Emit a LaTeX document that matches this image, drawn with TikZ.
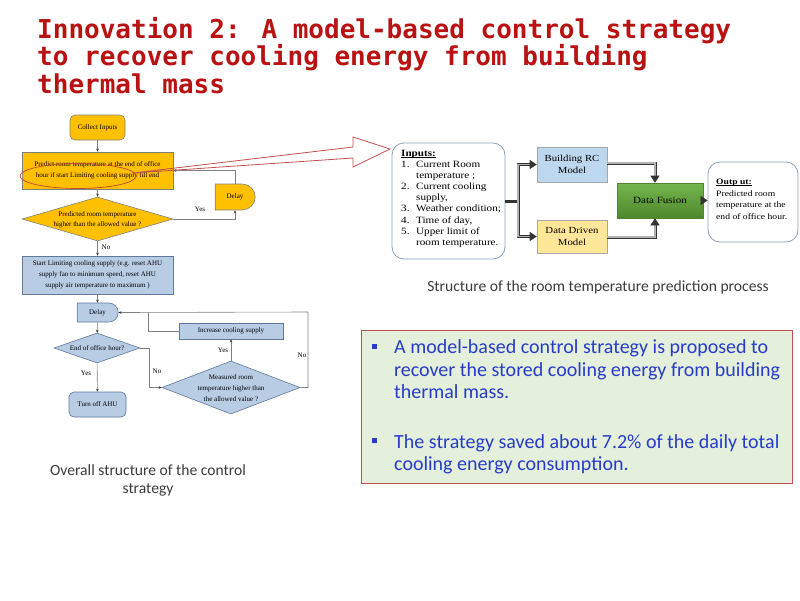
\documentclass[tikz,border=0pt]{standalone}
\usepackage{fontspec}
\setmainfont{Liberation Serif}
\newfontfamily\titlefont{DejaVu Sans Mono}
\newfontfamily\calfont{Carlito}
\newfontfamily\widetimes{Liberation Serif}[FakeStretch=1.16]
\usetikzlibrary{shapes.geometric,shapes.misc,arrows.meta,calc}
\definecolor{titlered}{RGB}{185,18,18}
\definecolor{forange}{RGB}{255,192,0}
\definecolor{fblue}{RGB}{184,204,228}
\definecolor{fblueline}{RGB}{95,120,155}
\definecolor{hlred}{RGB}{192,70,55}
\definecolor{bigred}{RGB}{192,80,77}
\definecolor{boxgreen}{RGB}{228,239,220}
\definecolor{txtblue}{RGB}{40,60,200}
\definecolor{rcblue}{RGB}{189,215,238}
\definecolor{ddyellow}{RGB}{255,230,153}
\definecolor{gtop}{RGB}{118,182,78}
\definecolor{gbot}{RGB}{78,135,45}
\definecolor{capgray}{RGB}{60,60,60}
\definecolor{rboxline}{RGB}{140,160,180}
\newcommand{\myul}[1]{\setbox0\hbox{#1}\rlap{\rule[-1.3pt]{\wd0}{0.55pt}}\box0}
\begin{document}
\begin{tikzpicture}[x=1pt,y=-1pt,
  ftext/.style={font=\fontsize{7}{11}\selectfont, align=center, inner sep=0pt},
  obox/.style={draw=black!50, fill=forange, line width=0.6pt, inner sep=0pt},
  bbox/.style={draw=fblueline, fill=fblue, line width=0.6pt, inner sep=0pt},
  dia/.style={diamond, inner sep=0pt},
  delayshape/.style={rounded rectangle, rounded rectangle west arc=none, inner sep=0pt},
  conn/.style={draw=black!50, line width=0.6pt, -{Stealth[length=3pt,width=2.6pt,black!80]}},
  plain/.style={draw=black!50, line width=0.6pt},
  lbl/.style={font=\fontsize{7}{8}\selectfont, inner sep=0pt},
  rtext/.style={font=\widetimes\fontsize{9.6}{11.1}\selectfont, align=left, inner sep=0pt},
  rbox/.style={draw=rboxline, line width=0.8pt, rounded corners=12pt, fill=white},
  mbox/.style={draw=black!35, line width=0.6pt, font=\widetimes\fontsize{9.3}{12}\selectfont, align=center, inner sep=0pt},
  dbl/.style={draw=black!80, line width=0.6pt, double=black!30, double distance=1.8pt},
  dblarr/.style={dbl, -{Triangle[length=7pt,width=9pt]}},
  captext/.style={font=\calfont\fontsize{15.6}{18}\selectfont, text=capgray, align=center, inner sep=0pt},
  ttl/.style={anchor=base west, inner sep=0pt, font=\titlefont\bfseries\fontsize{26}{28}\selectfont, text=titlered},
  btext/.style={anchor=base west, inner sep=0pt, font=\calfont\fontsize{20}{22.5}\selectfont, text=txtblue}
]
\useasboundingbox (0,0) rectangle (800,600);
\fill[white] (0,0) rectangle (800,600);

% ---------- Title ----------
\node[ttl] (t1) at (37,38) {Innovation 2: A model-based control strategy};
\node[ttl] (t2) at (37,65.5) {to recover cooling energy from building};
\node[ttl] (t3) at (37,93) {thermal mass};

% ---------- Flowchart ----------
\node[obox, rounded corners=5pt, minimum width=55pt, minimum height=25pt, ftext] (ci) at (97.5,127.5) {Collect Inputs};
\node[obox, minimum width=151pt, minimum height=37pt, ftext] (pr) at (97.5,170.5)
  {Predict room temperature at the end of office\\hour if start Limiting cooling supply till end};
\node[obox, dia, minimum width=151pt, minimum height=44pt] (d1) at (97.5,219) {};
\node[ftext, font=\fontsize{7}{10}\selectfont] (d1t) at (97.5,219.5) {Predicted room temperature\\higher than the allowed value ?};
\node[obox, delayshape, minimum width=40pt, minimum height=26pt, ftext] (dl1) at (235,197) {Delay};
\node[bbox, minimum width=151pt, minimum height=38pt, ftext] (st) at (97.5,275)
  {Start Limiting cooling supply (e.g. reset AHU\\supply fan to minimum speed, reset AHU\\supply air temperature to maximum )};
\node[bbox, delayshape, minimum width=41pt, minimum height=19pt, ftext] (dl2) at (97.5,312.5) {Delay};
\node[bbox, dia, minimum width=86pt, minimum height=30pt] (d2) at (97,348) {};
\node[ftext] (d2t) at (97,348) {End of office hour?};
\node[bbox, rounded corners=5pt, minimum width=57pt, minimum height=25pt, ftext] (off) at (97.5,404.5) {Turn off AHU};
\node[bbox, dia, minimum width=138pt, minimum height=53pt] (d3) at (231,387.5) {};
\node[ftext] (d3t) at (231,388.5) {Measured room\\temperature higher than\\the allowed value ?};
\node[bbox, minimum width=104pt, minimum height=16pt, ftext] (inc) at (231,331) {Increase cooling supply};

\coordinate (j1) at (308,312);
\coordinate (j2) at (148,312);

\draw[conn] (ci) -- (pr);
\draw[conn] (pr) -- (d1);
\draw[conn] (d1.east) -| (dl1.south);
\draw[conn] (dl1.north) |- (pr.east);
\draw[conn] (d1) -- (st);
\draw[conn] (st) -- (dl2);
\draw[conn] (dl2) -- (d2);
\draw[conn] (d2) -- (off);
\draw[conn] (d2.east) -- ++(9,0) |- (d3.west);
\draw[conn] (d3) -- (inc);
\draw[plain] (inc.west) -| (j2);
\draw[conn] (d3.east) -| (j1) -- (dl2.east);

\node[lbl] (yes1) at (200,209) {Yes};
\node[lbl] (no1) at (106,247) {No};
\node[lbl] (yes2) at (86,373) {Yes};
\node[lbl] (no2) at (157,371) {No};
\node[lbl] (yes3) at (223,350) {Yes};
\node[lbl] (no3) at (302,355) {No};

% highlight ellipse and big arrow
\node[draw=hlred, line width=0.7pt, ellipse, minimum width=116pt, minimum height=25pt, inner sep=0pt] (hl) at (78,176) {};
\coordinate (atail) at (133,173);
\draw[bigred, line width=0.8pt, line join=miter]
  (atail) -- (353,147) -- (353,137) -- (390,149) -- (353,167) -- (353,158) -- cycle;

\node[captext] (cap1) at (148,480) {Overall structure of the control\\strategy};

% ---------- Prediction structure ----------
\node[rbox, minimum width=113pt, minimum height=116pt] (inp) at (448.5,201) {};
\node[rtext, anchor=north west] (inpt) at (401,150)
  {\textbf{\myul{Inputs:}}\\
   \makebox[15pt][l]{1.}Current Room\\
   \hspace*{15pt}temperature ;\\
   \makebox[15pt][l]{2.}Current cooling\\
   \hspace*{15pt}supply,\\
   \makebox[15pt][l]{3.}Weather condition;\\
   \makebox[15pt][l]{4.}Time of day,\\
   \makebox[15pt][l]{5.}Upper limit of\\
   \hspace*{15pt}room temperature.};
\node[mbox, fill=rcblue, minimum width=70pt, minimum height=35pt] (rc) at (572,164.5) {Building RC\\Model};
\node[mbox, fill=ddyellow, minimum width=70pt, minimum height=33pt] (dd) at (572,236.5) {Data Driven\\Model};
\node[mbox, font=\widetimes\fontsize{9.5}{12}\selectfont, draw=gbot, top color=gtop, bottom color=gbot, minimum width=86pt, minimum height=35pt] (df) at (660,200.5) {Data Fusion};
\node[rbox, minimum width=90pt, minimum height=80pt] (out) at (753,202) {};
\node[rtext, anchor=north west, font=\widetimes\fontsize{8.3}{11.5}\selectfont] (outt) at (716,179)
  {\textbf{\myul{Outp ut:}}\\Predicted room\\temperature at the\\end of office hour.};

\coordinate (sj) at (518,201);
\coordinate (rj) at (655,163);
\coordinate (dj) at (655,237);
\draw[draw=black!80, line width=3pt] (inp.east |- sj) -- (sj);
\draw[dblarr] (sj) |- (rc.west);
\draw[dblarr] (sj) |- (dd.west);
\draw[dblarr] (rc.east |- rj) -- (rj) -- (rj |- df.north);
\draw[dblarr] (dd.east |- dj) -- (dj) -- (dj |- df.south);
\draw[dblarr] (df.east) -- (out.west |- df.east);

\node[captext] (cap2) at (598,287) {Structure of the room temperature prediction process};

% ---------- Summary box ----------
\node[draw=bigred, fill=boxgreen, line width=0.8pt, minimum width=431pt, minimum height=153pt, inner sep=0pt] (sum) at (576.5,406.5) {};
\fill[txtblue] (372,343.5) rectangle (377,348.5);
\fill[txtblue] (372,438) rectangle (377,443);
\node[btext] (b1a) at (394,353.5) {A model-based control strategy is proposed to};
\node[btext] (b1b) at (394,376) {recover the stored cooling energy from building};
\node[btext] (b1c) at (394,398.5) {thermal mass.};
\node[btext] (b2a) at (394,448) {The strategy saved about 7.2\% of the daily total};
\node[btext] (b2b) at (394,470.5) {cooling energy consumption.};
\end{tikzpicture}
\end{document}
